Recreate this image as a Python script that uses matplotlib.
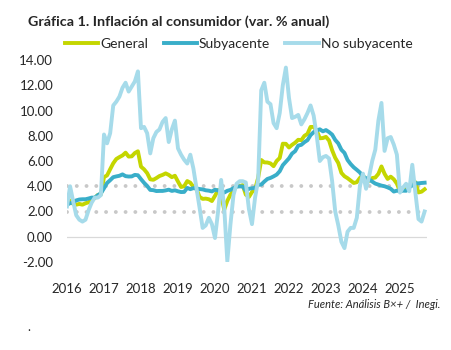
import matplotlib
matplotlib.use("Agg")
import matplotlib.pyplot as plt
import numpy as np
import pandas as pd

plt.rcParams['font.family'] = ['Lato', 'DejaVu Sans']

# monthly, Jan 2016 - Sep 2025
general = [
    2.61, 2.87, 2.60, 2.54, 2.60, 2.54, 2.65, 2.73, 2.97, 3.06, 3.31, 3.36,
    4.72, 4.86, 5.35, 5.82, 6.16, 6.31, 6.44, 6.66, 6.35, 6.37, 6.63, 6.77,
    5.55, 5.34, 5.04, 4.55, 4.51, 4.65, 4.81, 4.90, 5.02, 4.90, 4.72, 4.83,
    4.37, 3.94, 4.00, 4.41, 4.28, 3.95, 3.78, 3.16, 3.00, 3.02, 2.97, 2.83,
    3.24, 3.70, 3.25, 2.15, 2.84, 3.33, 3.62, 4.05, 4.01, 4.09, 3.33, 3.15,
    3.54, 3.76, 4.67, 6.08, 5.89, 5.88, 5.81, 5.59, 6.00, 6.24, 7.37, 7.36,
    7.07, 7.28, 7.45, 7.68, 7.65, 7.99, 8.15, 8.70, 8.70, 8.41, 7.80, 7.82,
    7.91, 7.62, 6.85, 6.25, 5.84, 5.06, 4.79, 4.64, 4.45, 4.26, 4.32, 4.66,
    4.88, 4.40, 4.42, 4.65, 4.69, 4.98, 5.57, 4.99, 4.58, 4.76, 4.55, 4.21,
    3.59, 3.77, 3.80, 3.93, 4.42, 4.32, 3.51, 3.57, 3.76,
]
subyacente = [
    2.54, 2.66, 2.72, 2.88, 2.95, 2.97, 2.97, 3.03, 3.10, 3.10, 3.29, 3.44,
    3.84, 4.26, 4.48, 4.72, 4.78, 4.83, 4.94, 4.80, 4.77, 4.78, 4.90, 4.87,
    4.56, 4.27, 4.02, 3.71, 3.69, 3.62, 3.63, 3.63, 3.67, 3.73, 3.63, 3.68,
    3.60, 3.54, 3.55, 3.87, 3.77, 3.85, 3.82, 3.78, 3.75, 3.68, 3.65, 3.59,
    3.73, 3.66, 3.60, 3.50, 3.64, 3.71, 3.85, 3.97, 3.99, 3.98, 3.66, 3.80,
    3.84, 3.87, 4.12, 4.13, 4.37, 4.58, 4.66, 4.78, 4.92, 5.19, 5.67, 5.94,
    6.21, 6.59, 6.78, 7.22, 7.28, 7.49, 7.65, 8.05, 8.28, 8.42, 8.51, 8.35,
    8.45, 8.29, 8.09, 7.67, 7.39, 6.89, 6.64, 6.08, 5.76, 5.50, 5.30, 5.09,
    4.76, 4.64, 4.55, 4.37, 4.21, 4.13, 4.05, 4.00, 3.91, 3.80, 3.58, 3.65,
    3.61, 3.65, 3.64, 3.93, 4.06, 4.24, 4.23, 4.26, 4.28,
]
no_subyacente = [
    2.4, 4.0, 2.8, 1.7, 1.35, 1.2, 1.35, 2.1, 2.7, 3.1, 3.1, 3.3,
    8.1, 7.4, 8.2, 10.4, 10.7, 11.1, 11.8, 12.2, 11.5, 11.9, 12.3, 13.1,
    8.6, 8.7, 8.2, 6.6, 7.8, 8.3, 8.5, 9.1, 9.4, 7.5, 8.5, 9.2,
    7.0, 6.5, 6.1, 5.8, 6.5, 5.4, 3.85, 2.3, 0.7, 0.9, 1.5, 1.0,
    -0.1, 2.0, 4.5, 2.3, -1.95, 0.95, 3.3, 4.2, 4.4, 4.4, 4.3, 2.2,
    1.0, 3.1, 4.5, 11.6, 12.2, 10.7, 10.5, 9.0, 8.6, 9.8, 12.0, 13.4,
    11.0, 9.4, 9.5, 9.65, 8.9, 9.3, 9.8, 10.4, 9.6, 8.0, 6.0, 6.3,
    6.4, 6.2, 4.4, 2.0, 0.9, -0.4, -0.9, 0.4, 0.7, 0.7, 1.5, 4.0,
    5.0, 3.8, 4.8, 6.0, 6.9, 9.2, 10.6, 6.8, 7.8, 7.9, 7.3, 6.5,
    3.5, 3.9, 4.2, 3.6, 5.7, 3.5, 1.4, 1.2, 2.0,
]
years = list(range(2016, 2026))

fechas = pd.date_range('2016-01-01', periods=len(general), freq='MS')
t = np.arange(len(fechas))

fig = plt.figure(figsize=(4.51, 3.5), dpi=100)
ax = fig.add_axes([67 / 451, 88 / 350, 360 / 451, 202 / 350])

ax.axhline(0, color='#d9d9d9', lw=0.9, zorder=1)
for ref in (2, 4):
    ax.axhline(ref, color='#c8c8c8', lw=2.8, ls=(0, (0.01, 2.5)),
               dash_capstyle='round', zorder=1)

ax.plot(t, general, color='#c4d600', lw=2.8, label='General', zorder=3)
ax.plot(t, subyacente, color='#39aec9', lw=2.8, label='Subyacente', zorder=4)
ax.plot(t, no_subyacente, color='#a6dbea', lw=2.8, label='No subyacente', zorder=5)

ax.set_xlim(0, 360 / 3.083)
ax.set_ylim(-2, 14)
ax.set_yticks(np.arange(-2, 15, 2))
ax.set_yticklabels([f'{v:.2f}' for v in np.arange(-2, 15, 2)])
ax.set_xticks([12 * (y - 2016) for y in years])
ax.set_xticklabels([str(y) for y in years])
ax.tick_params(axis='both', length=0, labelsize=9.5, labelcolor='#262626')
ax.tick_params(axis='y', pad=10)
ax.tick_params(axis='x', pad=15)
for s in ax.spines.values():
    s.set_visible(False)

fig.text(28 / 451, 1 - 22 / 350, 'Gráfica 1. Inflación al consumidor (var. % anual)',
         fontsize=10.4, fontweight='bold', color='#262626', va='center', ha='left')
fig.legend(loc='center left', bbox_to_anchor=(58 / 451, 1 - 44 / 350), ncol=3,
           frameon=False, fontsize=10, handlelength=2.4, handletextpad=0.15,
           columnspacing=1.1, borderpad=0, labelcolor='#262626')
fig.text(440 / 451, 1 - 305 / 350, 'Fuente: Análisis B×+ /  Inegi.', fontsize=8,
         style='italic', color='#262626', ha='right', va='center')
fig.text(29 / 451, 1 - 327 / 350, '.', fontsize=9, color='#262626', ha='center', va='center')

fig.savefig('out.png', dpi=100)
